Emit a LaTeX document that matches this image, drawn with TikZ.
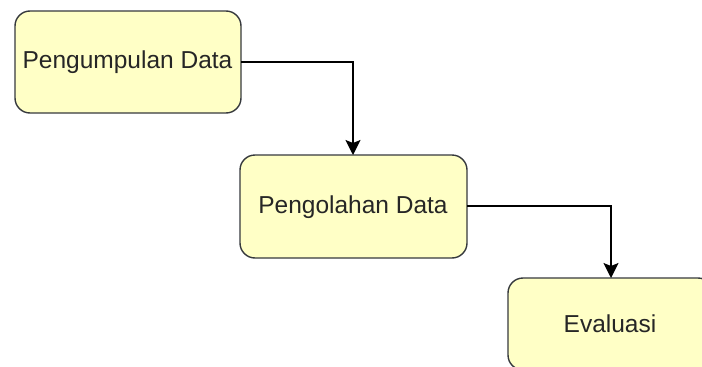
\documentclass[tikz,border=0pt]{standalone}
\usepackage{fontspec}
\setmainfont{Liberation Sans}
\usetikzlibrary{arrows.meta}
\definecolor{boxfill}{HTML}{FFFFC6}
\definecolor{boxline}{HTML}{36393D}
\begin{document}
\begin{tikzpicture}[x=1pt,y=-1pt,
  stepbox/.style={draw=boxline,fill=boxfill,line width=1.4pt,rounded corners=15pt,inner sep=0pt},
  conn/.style={line width=1.4pt,-{Stealth[length=15pt,width=15pt,inset=3pt]}},
  lbl/.style={font=\fontsize{24.5}{29}\selectfont,text=black!85}]
\useasboundingbox (0,0) rectangle (702,367);
\begin{scope}
\clip (0,0) rectangle (702,367);
\draw[stepbox] (15,11) rectangle (241,113);
\node[lbl] (a) at (127.5,62) {Pengumpulan Data};
\coordinate (aR) at (241,62);
\draw[stepbox] (240,155) rectangle (467,258);
\node[lbl] (b) at (353,207) {Pengolahan Data};
\coordinate (bT) at (353,155);
\coordinate (bR) at (467,206);
\draw[stepbox] (508,278) rectangle (713,370);
\node[lbl] (c) at (610,324) {Evaluasi};
\coordinate (cT) at (611,278);
\end{scope}
\draw[conn] (aR) -| (bT);
\draw[conn] (bR) -| (cT);
\end{tikzpicture}
\end{document}
